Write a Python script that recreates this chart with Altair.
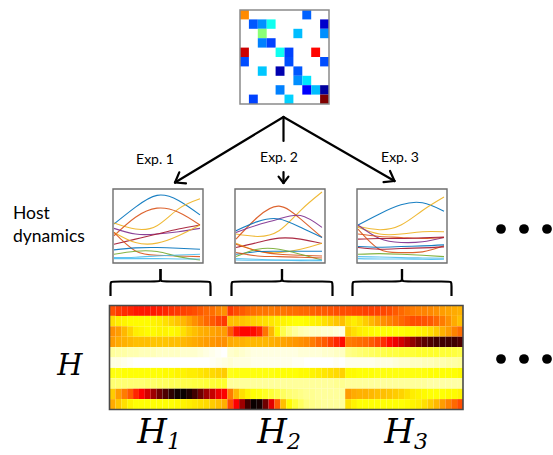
import math
import altair as alt
import pandas as pd

W, H = 553, 455

# ---------------- data ----------------
# sparse interaction matrix (jet colour values 0..1)
MAT_ROW = [0, 0, 1, 1, 1, 1, 2, 2, 2, 3, 3, 4, 4, 4, 4, 5, 5, 5, 6, 6, 6, 7, 7, 8, 8, 8, 8, 9, 9, 9]
MAT_COL = [0, 7, 1, 2, 3, 9, 2, 6, 9, 2, 3, 0, 4, 5, 8, 0, 5, 9, 2, 4, 6, 6, 7, 4, 7, 8, 9, 1, 5, 9]
MAT_VAL = [0.74, 0.22, 0.21, 0.265, 0.39, 0.075, 0.51, 0.31, 0.265, 0.25, 0.19, 0.925, 0.39, 0.19, 0.87,
           0.2, 0.2, 0.2, 0.32, 0.047, 0.21, 0.265, 0.35, 0.25, 0.125, 0.31, 0.03, 0.19, 0.33, 1.0]

# host dynamics: (colour key, values at 5 time samples)
EXP1_LINES = [
    ("c1", [113, 163, 198, 183, 140]),
    ("c3", [116, 98, 108, 158, 188]),
    ("c2", [78, 133, 160, 148, 110]),
    ("c4", [100, 83, 83, 90, 100]),
    ("c7", [53, 68, 83, 98, 110]),
    ("c3", [88, 58, 56, 78, 110]),
    ("c2", [88, 33, 20, 18, 16]),
    ("c1", [36, 42, 43, 41, 38]),
    ("c5", [23, 32, 31, 16, 6]),
    ("c6", [13, 14, 18, 21, 23]),
    ("c6", [10, 10, 10, 9, 9]),
]
EXP2_LINES = [
    ("c3", [83, 76, 93, 153, 208]),
    ("c2", [68, 133, 166, 128, 73]),
    ("c4", [88, 110, 128, 138, 103]),
    ("c1", [93, 120, 128, 103, 73]),
    ("c7", [43, 58, 71, 68, 55]),
    ("c3", [56, 33, 28, 38, 56]),
    ("c2", [53, 33, 23, 20, 18]),
    ("c1", [23, 31, 32, 32, 32]),
    ("c5", [16, 38, 38, 23, 6]),
    ("c6", [10, 8, 6, 6, 6]),
    ("c2", [28, 18, 16, 14, 12]),
    ("c6", [6, 5, 5, 4, 4]),
]
EXP3_LINES = [
    ("c1", [110, 143, 170, 176, 151]),
    ("c3", [106, 96, 110, 153, 193]),
    ("c3", [103, 83, 83, 90, 90]),
    ("c4", [110, 70, 58, 60, 73]),
    ("c2", [83, 76, 73, 70, 73]),
    ("c7", [68, 70, 70, 72, 74]),
    ("c2", [98, 38, 28, 30, 48]),
    ("c1", [46, 44, 46, 48, 51]),
    ("c7", [43, 38, 40, 42, 45]),
    ("c5", [23, 25, 23, 20, 16]),
    ("c6", [16, 15, 13, 12, 11]),
    ("c6", [10, 9, 9, 8, 8]),
]

# heat matrix H = [H1 | H2 | H3], 10 rows x 20 samples each (0 = white ... 1 = black)
H1 = [
    [0.52, 0.55, 0.57, 0.58, 0.6, 0.6, 0.6, 0.6, 0.59, 0.58, 0.56, 0.55, 0.54, 0.53, 0.52, 0.5, 0.48, 0.47, 0.44, 0.42],
    [0.3, 0.28, 0.27, 0.26, 0.26, 0.26, 0.26, 0.27, 0.28, 0.3, 0.32, 0.34, 0.36, 0.39, 0.42, 0.45, 0.48, 0.5, 0.53, 0.55],
    [0.42, 0.4, 0.36, 0.32, 0.28, 0.27, 0.26, 0.26, 0.27, 0.27, 0.26, 0.27, 0.3, 0.33, 0.35, 0.37, 0.38, 0.39, 0.4, 0.4],
    [0.4, 0.38, 0.37, 0.36, 0.35, 0.35, 0.35, 0.34, 0.34, 0.34, 0.35, 0.35, 0.36, 0.37, 0.38, 0.39, 0.4, 0.41, 0.42, 0.42],
    [0.1, 0.09, 0.09, 0.08, 0.08, 0.07, 0.07, 0.07, 0.06, 0.06, 0.06, 0.06, 0.05, 0.05, 0.05, 0.04, 0.03, 0.02, 0.01, 0.0],
    [0.03, 0.03, 0.02, 0.01, 0.0, 0.0, 0.0, 0.0, 0.0, 0.0, 0.0, 0.0, 0.0, 0.0, 0.0, 0.0, 0.0, 0.01, 0.02, 0.03],
    [0.24, 0.24, 0.25, 0.25, 0.25, 0.25, 0.25, 0.25, 0.25, 0.26, 0.26, 0.27, 0.27, 0.28, 0.28, 0.29, 0.3, 0.31, 0.32, 0.33],
    [0.14, 0.14, 0.14, 0.14, 0.14, 0.14, 0.15, 0.15, 0.16, 0.16, 0.17, 0.17, 0.18, 0.18, 0.19, 0.19, 0.2, 0.2, 0.21, 0.21],
    [0.33, 0.4, 0.45, 0.5, 0.58, 0.64, 0.7, 0.78, 0.85, 0.9, 0.95, 0.99, 1.0, 0.97, 0.92, 0.85, 0.78, 0.72, 0.66, 0.64],
    [0.38, 0.34, 0.3, 0.27, 0.25, 0.25, 0.25, 0.25, 0.25, 0.25, 0.25, 0.26, 0.27, 0.28, 0.29, 0.3, 0.31, 0.33, 0.35, 0.37],
]
H2 = [
    [0.55, 0.52, 0.5, 0.48, 0.47, 0.46, 0.46, 0.45, 0.46, 0.46, 0.47, 0.47, 0.48, 0.48, 0.49, 0.5, 0.5, 0.51, 0.52, 0.52],
    [0.35, 0.35, 0.34, 0.33, 0.32, 0.31, 0.3, 0.29, 0.28, 0.27, 0.26, 0.25, 0.25, 0.26, 0.27, 0.28, 0.3, 0.32, 0.34, 0.35],
    [0.5, 0.6, 0.63, 0.63, 0.62, 0.58, 0.46, 0.36, 0.27, 0.18, 0.13, 0.1, 0.08, 0.07, 0.06, 0.06, 0.05, 0.05, 0.04, 0.03],
    [0.38, 0.37, 0.37, 0.36, 0.36, 0.36, 0.36, 0.37, 0.38, 0.39, 0.4, 0.41, 0.42, 0.43, 0.45, 0.48, 0.5, 0.54, 0.58, 0.62],
    [0.05, 0.06, 0.05, 0.04, 0.03, 0.03, 0.03, 0.03, 0.03, 0.03, 0.03, 0.03, 0.04, 0.04, 0.04, 0.04, 0.05, 0.05, 0.06, 0.06],
    [0.04, 0.03, 0.03, 0.03, 0.02, 0.02, 0.02, 0.02, 0.02, 0.02, 0.02, 0.01, 0.01, 0.0, 0.0, 0.0, 0.0, 0.0, 0.01, 0.0],
    [0.23, 0.24, 0.24, 0.24, 0.24, 0.24, 0.24, 0.24, 0.25, 0.25, 0.25, 0.25, 0.26, 0.26, 0.27, 0.28, 0.29, 0.3, 0.31, 0.32],
    [0.1, 0.1, 0.1, 0.1, 0.1, 0.1, 0.1, 0.1, 0.1, 0.1, 0.1, 0.1, 0.1, 0.1, 0.1, 0.1, 0.1, 0.1, 0.11, 0.11],
    [0.45, 0.36, 0.3, 0.27, 0.25, 0.24, 0.22, 0.2, 0.18, 0.16, 0.14, 0.13, 0.12, 0.11, 0.11, 0.1, 0.1, 0.1, 0.1, 0.1],
    [0.52, 0.64, 0.78, 0.92, 1.0, 0.98, 0.85, 0.68, 0.5, 0.35, 0.26, 0.2, 0.16, 0.13, 0.12, 0.11, 0.1, 0.1, 0.1, 0.1],
]
H3 = [
    [0.52, 0.53, 0.53, 0.54, 0.54, 0.54, 0.53, 0.52, 0.5, 0.48, 0.46, 0.45, 0.44, 0.44, 0.43, 0.42, 0.4, 0.39, 0.38, 0.37],
    [0.3, 0.28, 0.3, 0.33, 0.36, 0.39, 0.42, 0.44, 0.46, 0.48, 0.5, 0.52, 0.52, 0.51, 0.5, 0.48, 0.45, 0.42, 0.38, 0.35],
    [0.33, 0.3, 0.28, 0.27, 0.26, 0.25, 0.25, 0.25, 0.25, 0.25, 0.26, 0.26, 0.27, 0.28, 0.3, 0.33, 0.37, 0.4, 0.44, 0.47],
    [0.45, 0.46, 0.47, 0.48, 0.5, 0.53, 0.57, 0.62, 0.66, 0.7, 0.75, 0.8, 0.85, 0.88, 0.9, 0.92, 0.92, 0.92, 0.92, 0.9],
    [0.12, 0.13, 0.14, 0.15, 0.16, 0.17, 0.18, 0.19, 0.19, 0.2, 0.2, 0.2, 0.21, 0.21, 0.21, 0.21, 0.2, 0.2, 0.19, 0.18],
    [0.02, 0.02, 0.02, 0.02, 0.02, 0.03, 0.03, 0.03, 0.04, 0.05, 0.05, 0.06, 0.06, 0.07, 0.07, 0.08, 0.08, 0.09, 0.09, 0.1],
    [0.26, 0.26, 0.25, 0.25, 0.25, 0.24, 0.24, 0.24, 0.24, 0.24, 0.24, 0.24, 0.24, 0.24, 0.25, 0.25, 0.25, 0.25, 0.25, 0.26],
    [0.1, 0.1, 0.1, 0.1, 0.1, 0.1, 0.1, 0.1, 0.1, 0.1, 0.1, 0.1, 0.1, 0.1, 0.09, 0.09, 0.09, 0.09, 0.09, 0.09],
    [0.4, 0.38, 0.37, 0.37, 0.36, 0.35, 0.35, 0.34, 0.33, 0.32, 0.3, 0.28, 0.27, 0.26, 0.25, 0.25, 0.25, 0.26, 0.26, 0.27],
    [0.3, 0.27, 0.25, 0.25, 0.25, 0.25, 0.25, 0.25, 0.25, 0.25, 0.26, 0.27, 0.28, 0.3, 0.33, 0.36, 0.4, 0.44, 0.48, 0.52],
]

EXP_LABELS = ["Exp. 1", "Exp. 2", "Exp. 3"]
SUB_LABELS = ["1", "2", "3"]

# ---------------- layout & style ----------------
MAT_X = (240, 329)
MAT_Y = (10, 104)
PANEL_X0 = [113, 235, 357]
PANEL_W = 90
PANEL_Y = (189, 263)
HEAT_X = (109.5, 463)
HEAT_Y = (305.5, 409.5)
BRACES = [(110.5, 210.5), (231.5, 332.5), (352.5, 451.5)]
EXP_POS = [(155, 164), (279, 162), (400, 162)]
HSUB_X = [152, 272, 399]

JET_STOPS = [0, 0.125, 0.375, 0.5, 0.625, 0.875, 1]
JET_COLORS = ["#000080", "#0000ff", "#00ffff", "#80ff80", "#ffff00", "#ff0000", "#800000"]
HOT_STOPS = [0, 0.254, 0.635, 1]
HOT_COLORS = ["#ffffff", "#ffff00", "#ff0000", "#0a0000"]
PAL_KEYS = ["c1", "c2", "c3", "c4", "c5", "c6", "c7"]
PAL_COLORS = ["#0072BD", "#D95319", "#EDB120", "#7E2F8E", "#77AC30", "#4DBEEE", "#A2142F"]

PX = alt.Scale(domain=[0, W], range=[0, W], nice=False, zero=False)
PY = alt.Scale(domain=[0, H], range=[0, H], nice=False, zero=False)


def pxy():
    return dict(x=alt.X("x:Q", scale=PX, axis=None), y=alt.Y("y:Q", scale=PY, axis=None))


layers = []

# ---- matrix ----
df_mat = pd.DataFrame({"r": MAT_ROW, "c": MAT_COL, "v": MAT_VAL})
df_mat["r1"] = df_mat["r"] + 1
df_mat["c1"] = df_mat["c"] + 1
layers.append(
    alt.Chart(df_mat).mark_rect().encode(
        x=alt.X("c:Q", scale=alt.Scale(domain=[0, 10], range=list(MAT_X), nice=False, zero=False), axis=None),
        x2="c1:Q",
        y=alt.Y("r:Q", scale=alt.Scale(domain=[0, 10], range=list(MAT_Y), nice=False, zero=False), axis=None),
        y2="r1:Q",
        color=alt.Color("v:Q", scale=alt.Scale(domain=JET_STOPS, range=JET_COLORS, interpolate="rgb"), legend=None),
    )
)

# ---- host dynamics panels ----
for pi, lines in enumerate([EXP1_LINES, EXP2_LINES, EXP3_LINES]):
    rows = []
    for li, (ck, vals) in enumerate(lines):
        for k, v in enumerate(vals):
            rows.append({"id": li, "k": k, "v": v, "c": ck})
    dfl = pd.DataFrame(rows)
    x0 = PANEL_X0[pi]
    layers.append(
        alt.Chart(dfl).mark_line(interpolate="natural", strokeWidth=1.1, opacity=0.9).encode(
            x=alt.X("k:Q", scale=alt.Scale(domain=[0, 4], range=[x0 + 1, x0 + 87], nice=False, zero=False), axis=None),
            y=alt.Y("v:Q", scale=alt.Scale(domain=[0, 214], range=[PANEL_Y[1] - 1, PANEL_Y[0] + 1], nice=False, zero=False), axis=None),
            color=alt.Color("c:N", scale=alt.Scale(domain=PAL_KEYS, range=PAL_COLORS), legend=None),
            detail="id:N",
            order="k:Q",
        )
    )

# ---- heat matrix ----
hrows = []
for bi, block in enumerate([H1, H2, H3]):
    for r, row in enumerate(block):
        for j, v in enumerate(row):
            c = bi * 20 + j
            hrows.append({"r": r, "r1": r + 1, "c": c, "c1": c + 1, "v": v})
df_heat = pd.DataFrame(hrows)
layers.append(
    alt.Chart(df_heat).mark_rect().encode(
        x=alt.X("c:Q", scale=alt.Scale(domain=[0, 60], range=list(HEAT_X), nice=False, zero=False), axis=None),
        x2="c1:Q",
        y=alt.Y("r:Q", scale=alt.Scale(domain=[0, 10], range=list(HEAT_Y), nice=False, zero=False), axis=None),
        y2="r1:Q",
        color=alt.Color("v:Q", scale=alt.Scale(domain=HOT_STOPS, range=HOT_COLORS, interpolate="rgb"), legend=None),
    )
)

# ---- frames ----
def frame(x0, y0, x1, y1, color, sw):
    d = pd.DataFrame({"x": [x0], "y": [y0], "x2": [x1], "y2": [y1]})
    return alt.Chart(d).mark_rect(fillOpacity=0, stroke=color, strokeWidth=sw).encode(
        **pxy(), x2="x2:Q", y2="y2:Q"
    )

layers.append(frame(MAT_X[0], MAT_Y[0], MAT_X[1], MAT_Y[1], "#8a8a8a", 1.5))
for x0 in PANEL_X0:
    layers.append(frame(x0, PANEL_Y[0], x0 + PANEL_W, PANEL_Y[1], "#6e6e6e", 1.4))
layers.append(frame(HEAT_X[0], HEAT_Y[0], HEAT_X[1], HEAT_Y[1], "#4a4a4a", 1.6))

# ---- arrows ----
APEX = (283.5, 117)
segs = []


def add_arrow(tail, tip, L, ang):
    segs.append((tail[0], tail[1], tip[0], tip[1]))
    dx, dy = tail[0] - tip[0], tail[1] - tip[1]
    n = math.hypot(dx, dy)
    ux, uy = dx / n, dy / n
    a = math.radians(ang)
    for s in (1, -1):
        rx = ux * math.cos(s * a) - uy * math.sin(s * a)
        ry = ux * math.sin(s * a) + uy * math.cos(s * a)
        segs.append((tip[0], tip[1], tip[0] + L * rx, tip[1] + L * ry))


add_arrow(APEX, (175, 182.5), 11, 36)
add_arrow(APEX, (394.5, 181), 11, 36)
segs.append((APEX[0], APEX[1], APEX[0], 141))
add_arrow((APEX[0], 172), (APEX[0], 183), 8, 38)
df_seg = pd.DataFrame(segs, columns=["x", "y", "x2", "y2"])
layers.append(
    alt.Chart(df_seg).mark_rule(strokeWidth=2.2, color="black", strokeCap="round").encode(
        **pxy(), x2="x2:Q", y2="y2:Q"
    )
)

# ---- braces ----
brows = []
bid = 0
for xl, xr in BRACES:
    xc = (xl + xr) / 2
    yt, yb, yk = 296, 281.5, 269
    for side in (1, -1):
        xo = xl if side == 1 else xr
        pts = [(xo, yt), (xo, 285), (xo, yb), (xo + side * 4, yb), (xc - side * 4, yb), (xc, yb), (xc, yb - 4), (xc, yk)]
        for k, (px_, py_) in enumerate(pts):
            brows.append({"id": bid, "k": k, "x": px_, "y": py_})
        bid += 1
df_br = pd.DataFrame(brows)
layers.append(
    alt.Chart(df_br).mark_line(interpolate="basis", strokeWidth=2.2, color="black").encode(
        **pxy(), detail="id:N", order="k:Q"
    )
)

# ---- texts ----
df_exp = pd.DataFrame({"x": [p[0] for p in EXP_POS], "y": [p[1] for p in EXP_POS], "t": EXP_LABELS})
layers.append(
    alt.Chart(df_exp).mark_text(font="Lato", fontSize=14, align="center", baseline="alphabetic", color="black").encode(
        **pxy(), text="t:N"
    )
)
df_host = pd.DataFrame({"x": [13, 13], "y": [219, 242], "t": ["Host", "dynamics"]})
layers.append(
    alt.Chart(df_host).mark_text(font="Lato", fontSize=17.5, align="left", baseline="alphabetic", color="black").encode(
        **pxy(), text="t:N"
    )
)
df_H = pd.DataFrame({"x": [70], "y": [375], "t": ["H"]})
layers.append(
    alt.Chart(df_H).mark_text(font="DejaVu Serif", fontStyle="italic", fontSize=29, align="center",
                              baseline="alphabetic", color="black").encode(**pxy(), text="t:N")
)
df_Hb = pd.DataFrame({"x": HSUB_X, "y": [443] * 3, "t": ["H"] * 3})
layers.append(
    alt.Chart(df_Hb).mark_text(font="DejaVu Serif", fontStyle="italic", fontSize=34, align="center",
                               baseline="alphabetic", color="black").encode(**pxy(), text="t:N")
)
df_sub = pd.DataFrame({"x": [x + 22 for x in HSUB_X], "y": [449] * 3, "t": SUB_LABELS})
layers.append(
    alt.Chart(df_sub).mark_text(font="DejaVu Serif", fontStyle="italic", fontSize=22, align="center",
                                baseline="alphabetic", color="black").encode(**pxy(), text="t:N")
)

# ---- ellipsis dots ----
df_dots = pd.DataFrame({"x": [501, 524, 547] * 2, "y": [229] * 3 + [359] * 3})
layers.append(alt.Chart(df_dots).mark_circle(size=95, color="black", opacity=1).encode(**pxy()))

chart = (
    alt.layer(*layers)
    .resolve_scale(x="independent", y="independent", color="independent")
    .properties(width=W, height=H, padding=0, autosize=alt.AutoSizeParams(type="none"), background="white")
    .configure_view(stroke=None)
)

chart.save("out.html", embed_options={"renderer": "svg", "actions": False})
